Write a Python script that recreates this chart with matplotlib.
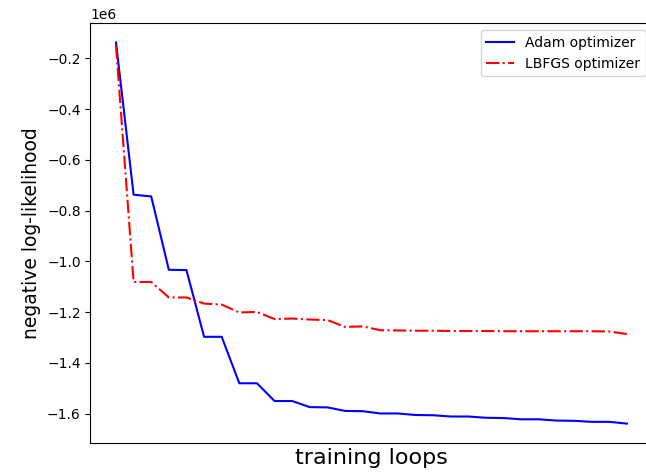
import numpy as np
import matplotlib.pyplot as plt

# negative log-likelihood per training loop
adam_nll = [-0.137, -0.737, -0.744, -1.033, -1.034, -1.297, -1.297, -1.480, -1.480,
            -1.550, -1.550, -1.574, -1.575, -1.589, -1.590, -1.599, -1.599, -1.605,
            -1.606, -1.611, -1.611, -1.616, -1.617, -1.622, -1.622, -1.627, -1.628,
            -1.632, -1.632, -1.639]
lbfgs_nll = [-0.150, -1.081, -1.081, -1.142, -1.142, -1.166, -1.170, -1.201, -1.199,
             -1.227, -1.225, -1.229, -1.231, -1.258, -1.256, -1.271, -1.272, -1.273,
             -1.273, -1.274, -1.274, -1.274, -1.275, -1.275, -1.275, -1.275, -1.275,
             -1.275, -1.276, -1.286]

loops = np.arange(len(adam_nll))
adam = np.array(adam_nll) * 1e6
lbfgs = np.array(lbfgs_nll) * 1e6

fig = plt.figure(figsize=(6.46, 4.76), dpi=100)
ax = fig.add_axes([0.140, 0.070, 0.870, 0.881])

ax.plot(loops, adam, 'b-', label='Adam optimizer')
ax.plot(loops, lbfgs, 'r-.', label='LBFGS optimizer')
ax.set_xticks([])
ax.set_xlabel('training loops', fontsize=16)
ax.set_ylabel('negative log-likelihood', fontsize=13.5)
ax.legend(loc='upper right')

fig.savefig('out.png', dpi=100)
